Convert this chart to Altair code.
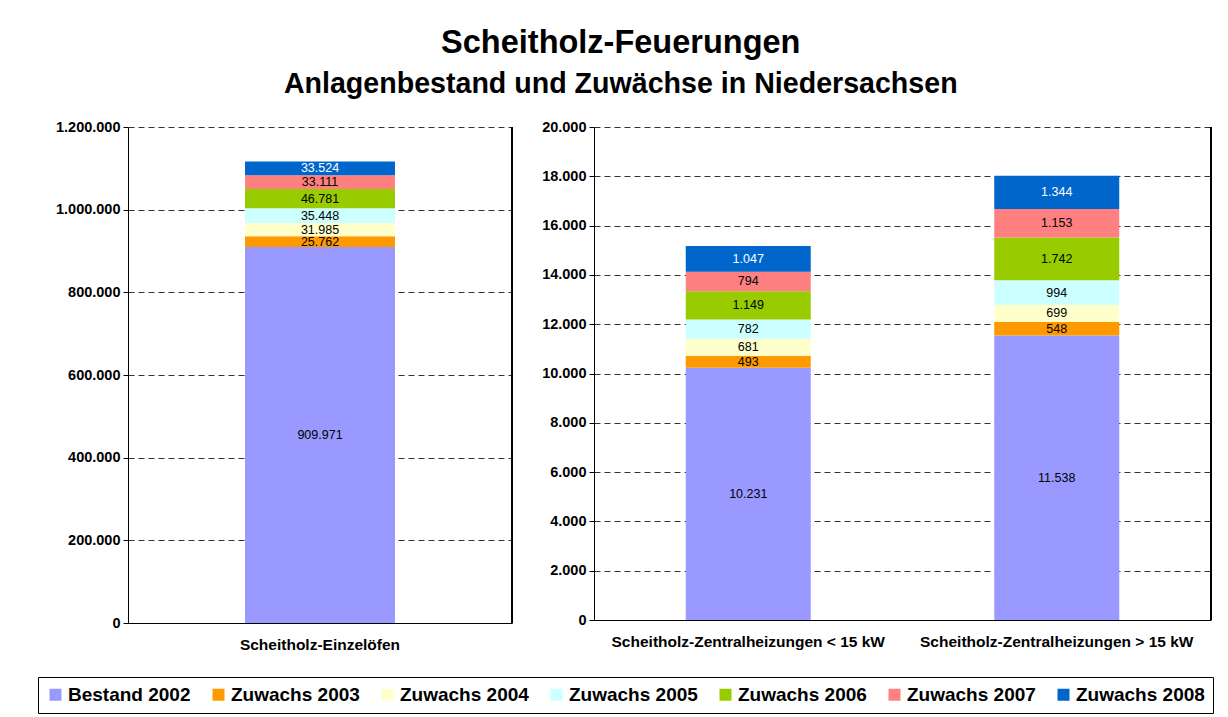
import altair as alt
import pandas as pd

series = ["Bestand 2002", "Zuwachs 2003", "Zuwachs 2004", "Zuwachs 2005",
          "Zuwachs 2006", "Zuwachs 2007", "Zuwachs 2008"]
colors = ["#9999FF", "#FF9900", "#FFFFCC", "#CCFFFF", "#99CC00", "#FF8080", "#0066CC"]

cat_left = ["Scheitholz-Einzelöfen"]
cat_right = ["Scheitholz-Zentralheizungen < 15 kW", "Scheitholz-Zentralheizungen > 15 kW"]

einzeloefen = [909971, 25762, 31985, 35448, 46781, 33111, 33524]
zh_unter15 = [10231, 493, 681, 782, 1149, 794, 1047]
zh_ueber15 = [11538, 548, 699, 994, 1742, 1153, 1344]

left_ticks = [0, 200000, 400000, 600000, 800000, 1000000, 1200000]
right_ticks = [0, 2000, 4000, 6000, 8000, 10000, 12000, 14000, 16000, 18000, 20000]

FONT = "Liberation Sans"


def de(n):
    return f"{n:,}".replace(",", ".")


def make_df(cats, value_lists):
    rows = []
    for cat, vals in zip(cats, value_lists):
        for i, (s, v) in enumerate(zip(series, vals)):
            rows.append({"cat": cat, "series": s, "order": i, "value": v, "label": de(v)})
    return pd.DataFrame(rows)


df_left = make_df(cat_left, [einzeloefen])
df_right = make_df(cat_right, [zh_unter15, zh_ueber15])

label_expr = "replace(format(datum.value, ','), regexp(',', 'g'), '.')"

legend = alt.Legend(
    title=None, orient="none", legendX=-90, legendY=550, direction="horizontal",
    columns=7, strokeColor="black", padding=8, symbolType="square", symbolSize=144,
    symbolStrokeWidth=0, labelFontSize=19, labelFontWeight="bold", labelFont=FONT,
    labelColor="black", columnPadding=18, labelOffset=3, labelLimit=0,
)


def panel(df, cats, ticks, w, h, barsize, extent):
    base = alt.Chart(df)
    x_axis = alt.Axis(title=None, labelAngle=0, ticks=False, labelFontSize=15.5,
                      labelFontWeight="bold", labelFont=FONT, labelColor="black",
                      labelPadding=14, domainColor="black", labelLimit=0, grid=False)
    y_axis = alt.Axis(title=None, values=ticks, labelExpr=label_expr,
                      labelFontSize=14.5, labelFontWeight="bold", labelFont=FONT,
                      labelColor="black", domainColor="black", tickColor="black",
                      tickSize=5, labelPadding=3, grid=True, gridDash=[6, 4],
                      gridColor="#333333", gridWidth=1, minExtent=extent, maxExtent=extent)
    xscale = alt.Scale(paddingInner=0, paddingOuter=0)
    yscale = alt.Scale(domain=[0, ticks[-1]], nice=False)
    bars = base.mark_bar(size=barsize).encode(
        x=alt.X("cat:N", sort=cats, scale=xscale, axis=x_axis),
        y=alt.Y("value:Q", stack="zero", scale=yscale, axis=y_axis),
        color=alt.Color("series:N", scale=alt.Scale(domain=series, range=colors), legend=legend),
        order=alt.Order("order:Q", sort="ascending"),
    )
    text = base.transform_stack(
        stack="value", groupby=["cat"], as_=["y0", "y1"],
        sort=[alt.SortField("order", order="ascending")],
    ).transform_calculate(mid="(datum.y0 + datum.y1) / 2").mark_text(
        font=FONT, fontSize=12.5, baseline="middle", align="center"
    ).encode(
        x=alt.X("cat:N", sort=cats, scale=xscale, axis=x_axis),
        y=alt.Y("mid:Q", scale=yscale, axis=y_axis),
        text="label:N",
        color=alt.condition("datum.series == 'Zuwachs 2008'", alt.value("white"), alt.value("black")),
    )
    border = base.mark_rule(color="black", strokeWidth=1).encode(
        x=alt.value(w), y=alt.value(0), y2=alt.value(h)
    )
    return alt.layer(bars, text, border).properties(width=w, height=h)


left = panel(df_left, cat_left, left_ticks, 384, 496, 150, 120)
right = panel(df_right, cat_right, right_ticks, 617, 493, 125, 60)

chart = alt.hconcat(left, right, spacing=21).resolve_scale(
    y="independent", x="independent", color="shared"
).properties(
    padding={"left": 0, "top": 18, "right": 0, "bottom": 0},
    title=alt.TitleParams(
        text="Scheitholz-Feuerungen",
        subtitle="Anlagenbestand und Zuwächse in Niedersachsen",
        fontSize=32.5, subtitleFontSize=28.6, font=FONT, subtitleFont=FONT,
        fontWeight="bold", subtitleFontWeight="bold", color="black", subtitleColor="black",
        anchor="middle", subtitlePadding=11, offset=20, dx=10,
    ),
).configure_view(stroke=None)

chart.save("out.html", embed_options={"renderer": "svg", "actions": False})
